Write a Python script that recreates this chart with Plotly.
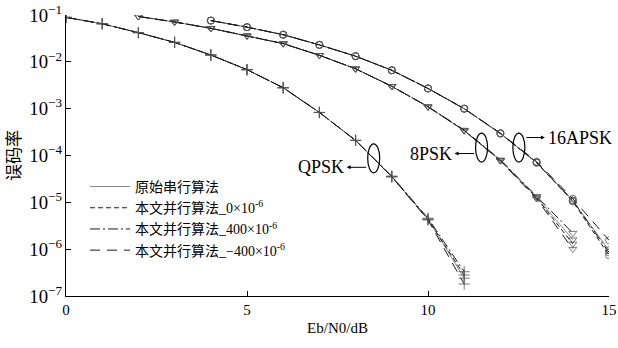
import plotly.graph_objects as go

# ---------------- data ----------------
x_qpsk = [0, 1, 2, 3, 4, 5, 6, 7, 8, 9, 10, 11]
qpsk_serial = [0.089, 0.065, 0.042, 0.026, 0.014, 0.0068, 0.0028, 8.3e-4, 2.1e-4, 3.6e-5, 4.4e-6, 2.4e-7]
qpsk_par0   = [0.089, 0.065, 0.042, 0.026, 0.014, 0.0068, 0.0028, 8.3e-4, 2.1e-4, 3.5e-5, 4.3e-6, 2.8e-7]
qpsk_p400   = [0.089, 0.065, 0.042, 0.026, 0.014, 0.0068, 0.0028, 8.3e-4, 2.1e-4, 3.6e-5, 4.6e-6, 3.3e-7]
qpsk_m400   = [0.089, 0.065, 0.042, 0.026, 0.014, 0.0068, 0.0028, 8.3e-4, 2.1e-4, 3.5e-5, 4.2e-6, 1.8e-7]

x_8psk = [2, 3, 4, 5, 6, 7, 8, 9, 10, 11, 12, 13, 14]
psk8_serial = [0.093, 0.071, 0.052, 0.036, 0.0245, 0.0138, 0.0071, 0.0030, 0.0011, 3.4e-4, 7.9e-5, 1.3e-5, 1.6e-6]
psk8_par0   = [0.093, 0.071, 0.052, 0.036, 0.0245, 0.0138, 0.0071, 0.0030, 0.0011, 3.4e-4, 7.8e-5, 1.25e-5, 1.3e-6]
psk8_p400   = [0.093, 0.071, 0.052, 0.036, 0.0245, 0.0138, 0.0071, 0.0030, 0.0011, 3.5e-4, 8.1e-5, 1.35e-5, 2.2e-6]
psk8_m400   = [0.093, 0.071, 0.052, 0.036, 0.0245, 0.0138, 0.0071, 0.0030, 0.0011, 3.4e-4, 7.7e-5, 1.2e-5, 1.0e-6]

x_16apsk = [4, 5, 6, 7, 8, 9, 10, 11, 12, 13, 14, 15]
apsk16_serial = [0.076, 0.055, 0.038, 0.023, 0.0132, 0.0066, 0.0027, 1.0e-3, 2.95e-4, 7.1e-5, 1.08e-5, 9.5e-7]
apsk16_par0   = [0.076, 0.055, 0.038, 0.023, 0.0132, 0.0066, 0.0027, 1.0e-3, 2.95e-4, 7.0e-5, 1.05e-5, 7.4e-7]
apsk16_p400   = [0.076, 0.055, 0.038, 0.023, 0.0132, 0.0066, 0.0027, 1.0e-3, 2.95e-4, 7.1e-5, 1.1e-5, 8.5e-7]
apsk16_m400   = [0.076, 0.055, 0.038, 0.023, 0.0132, 0.0066, 0.0027, 1.0e-3, 3.0e-4, 7.4e-5, 1.2e-5, 1.55e-6]

legend_names = ["原始串行算法",
                "本文并行算法_0×10<sup>-6</sup>",
                "本文并行算法_400×10<sup>-6</sup>",
                "本文并行算法_−400×10<sup>-6</sup>"]
dashes = ["solid", "5px,3px", "10px,3px,2px,3px", "10px,7px"]
line_colors = ["#888888", "#1a1a1a", "#1a1a1a", "#1a1a1a"]

mod_labels = ["QPSK", "8PSK", "16APSK"]
# ellipse centres (x in dB, log10 BER)
ell_x = [8.5, 11.48, 12.51]
ell_logy = [-4.06, -3.83, -3.83]

X_RANGE = [0, 15]
Y_RANGE = [-7, -1]

SERIF = "Times New Roman, Liberation Serif, DejaVu Serif, Noto Sans CJK SC, serif"

fig = go.Figure()

groups = [
    (x_qpsk, [qpsk_serial, qpsk_par0, qpsk_p400, qpsk_m400], "cross-thin-open", 8),
    (x_8psk, [psk8_serial, psk8_par0, psk8_p400, psk8_m400], "triangle-down-open", 7),
    (x_16apsk, [apsk16_serial, apsk16_par0, apsk16_p400, apsk16_m400], "circle-open", 7),
]

for xs, series, sym, msz in groups:
    for i, ys in enumerate(series):
        fig.add_trace(go.Scatter(
            x=xs, y=ys, mode="lines+markers", showlegend=False,
            line=dict(color=line_colors[i], width=1, dash=dashes[i]),
            marker=dict(symbol=sym, size=msz, color="#555555",
                        line=dict(width=0.8, color="#555555")),
            hoverinfo="skip"))

for i, name in enumerate(legend_names):
    fig.add_trace(go.Scatter(
        x=[None], y=[None], mode="lines", name=name,
        line=dict(color=line_colors[i], width=1, dash=dashes[i])))


def to_paper(xv, logy):
    return ((xv - X_RANGE[0]) / (X_RANGE[1] - X_RANGE[0]),
            (logy - Y_RANGE[0]) / (Y_RANGE[1] - Y_RANGE[0]))


shapes = []
annotations = []
for k, lab in enumerate(mod_labels):
    px, py = to_paper(ell_x[k], ell_logy[k])
    shapes.append(dict(type="circle", xref="paper", yref="paper",
                       xsizemode="pixel", ysizemode="pixel",
                       xanchor=px, yanchor=py,
                       x0=-6, x1=6, y0=-14.5, y1=14.5,
                       line=dict(color="black", width=1.2)))

arrow_specs = [  # (label, ellipse index, arrow head dx, tail dx, dy, text anchor)
    ("QPSK", 0, -27, -6, -9, "right"),
    ("8PSK", 1, -27, -6, -6, "right"),
    ("16APSK", 2, 26, 6, 10, "left"),
]
for lab, k, head_dx, tail_dx, dy, anch in arrow_specs:
    px, py = to_paper(ell_x[k], ell_logy[k])
    annotations.append(dict(xref="paper", yref="paper", x=px, y=py,
                            xshift=head_dx, yshift=dy, text="", showarrow=True,
                            arrowhead=2, arrowsize=0.8, arrowwidth=1, arrowcolor="black",
                            ax=tail_dx - head_dx, ay=0))
    annotations.append(dict(xref="paper", yref="paper", x=px, y=py,
                            xshift=head_dx + (-1 if anch == "right" else 1), yshift=dy,
                            text=lab, showarrow=False, xanchor=anch, yanchor="middle",
                            font=dict(family=SERIF, size=18, color="black")))

fig.update_layout(
    width=618, height=348,
    margin=dict(l=66, r=9, t=15, b=52),
    paper_bgcolor="white", plot_bgcolor="white",
    font=dict(family=SERIF, size=15, color="black"),
    shapes=shapes, annotations=annotations,
    legend=dict(x=0.035, y=0.445, xanchor="left", yanchor="top",
                bgcolor="rgba(0,0,0,0)", tracegroupgap=0,
                font=dict(family=SERIF, size=14),
                itemwidth=40),
    xaxis=dict(range=X_RANGE, dtick=5, tick0=0, showgrid=False, zeroline=False,
               showline=True, linecolor="black", linewidth=1, automargin=False,
               ticks="inside", ticklen=5, tickcolor="black",
               tickfont=dict(family=SERIF, size=15),
               title=dict(text="Eb/N0/dB", standoff=5,
                          font=dict(family=SERIF, size=15))),
    yaxis=dict(type="log", range=Y_RANGE, dtick=1, exponentformat="power",
               showgrid=False, zeroline=False, showline=True, linecolor="black",
               linewidth=1, ticks="inside", ticklen=5, tickcolor="black",
               automargin=False,
               tickfont=dict(family=SERIF, size=15),
               title=dict(text="误码率", standoff=5,
                          font=dict(family="Noto Sans CJK SC", size=17))),
)

fig.write_html("out.html", config={"displayModeBar": False},
               post_script="document.body.style.margin='0';")
